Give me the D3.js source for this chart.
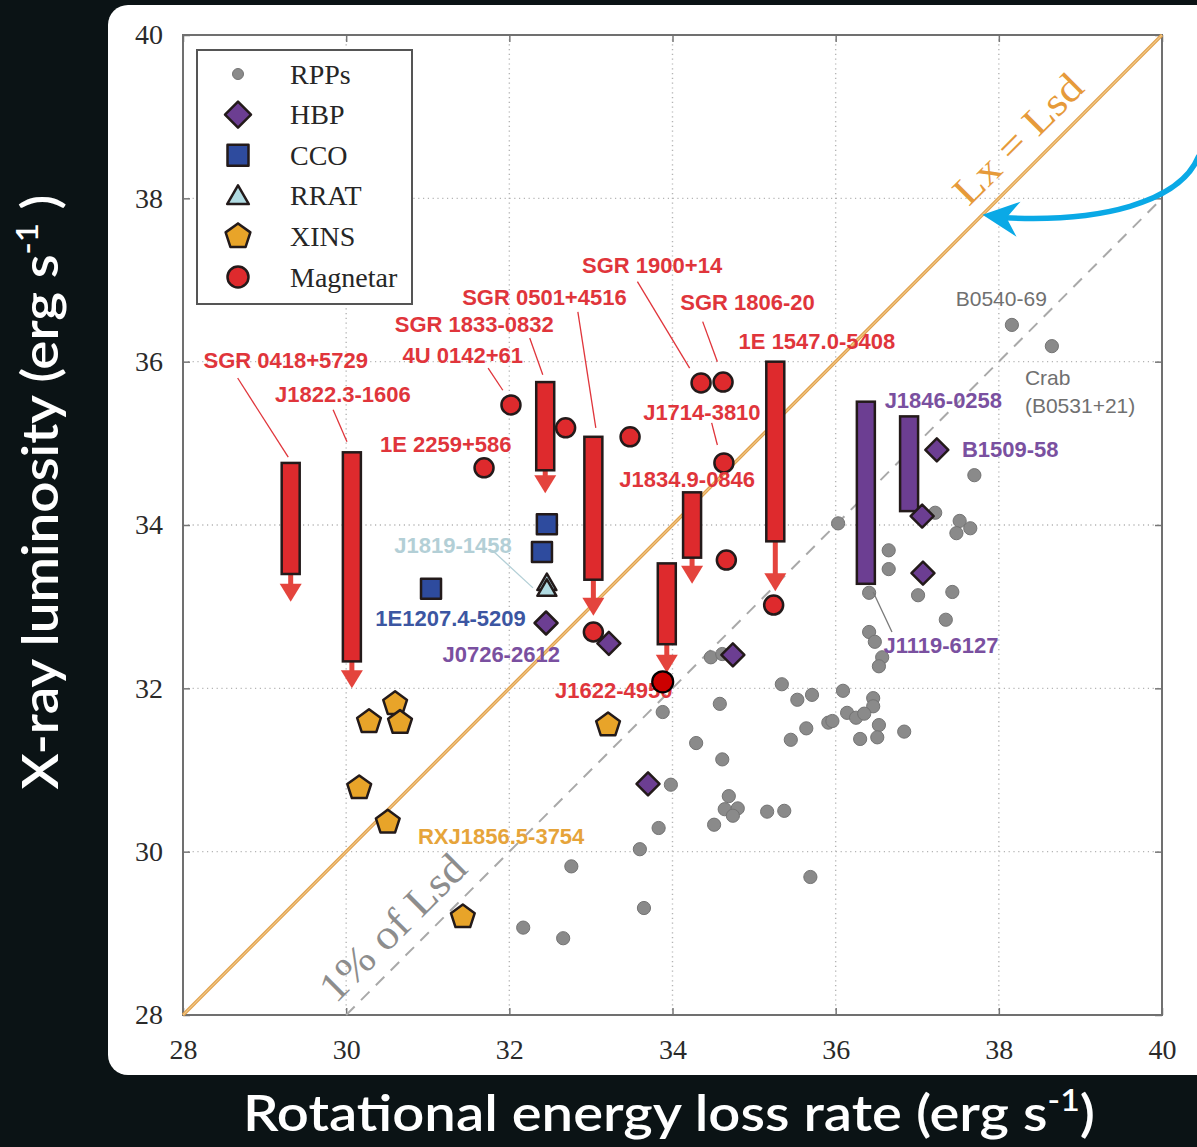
<!DOCTYPE html>
<html>
<head>
<meta charset="utf-8">
<script src="https://cdn.jsdelivr.net/npm/d3@7"></script>
<style>
  html, body { margin: 0; padding: 0; background: #0b1315; }
  svg { display: block; }
</style>
</head>
<body>
<svg id="chart" width="1197" height="1147"></svg>
<script>
// ---- axis ticks (log10 of erg/s) ----
const xTicks = [28, 30, 32, 34, 36, 38, 40];
const yTicks = [28, 30, 32, 34, 36, 38, 40];

// ---- rotation-powered pulsars: [log Edot, log Lx] ----
const rpps = [
  [38.16, 36.45], [38.65, 36.19], [37.70, 34.61], [37.22, 34.15], [37.52, 34.05],
  [37.65, 33.96], [37.48, 33.90], [36.03, 34.02], [36.65, 33.69], [36.65, 33.46],
  [36.41, 33.17], [37.01, 33.14], [37.43, 33.18], [37.35, 32.84], [36.41, 32.69],
  [36.48, 32.57], [36.57, 32.38], [36.53, 32.27], [34.47, 32.38], [34.61, 32.42],
  [35.34, 32.05], [34.58, 31.81], [35.53, 31.86], [35.71, 31.92], [36.09, 31.97],
  [36.46, 31.88], [36.46, 31.78], [33.88, 31.71], [36.14, 31.70], [36.25, 31.64],
  [36.35, 31.69], [35.91, 31.58], [35.96, 31.60], [35.64, 31.51], [36.53, 31.55],
  [35.45, 31.37], [36.30, 31.38], [36.51, 31.40], [36.84, 31.47], [34.29, 31.33],
  [34.61, 31.13], [33.98, 30.82], [34.69, 30.68], [34.64, 30.52], [34.80, 30.53],
  [34.74, 30.44], [35.16, 30.49], [35.37, 30.50], [33.83, 30.29], [34.51, 30.33],
  [33.60, 30.03], [35.69, 29.69], [32.76, 29.82], [33.65, 29.31], [32.17, 29.07],
  [32.66, 28.94]
];

// ---- high-B pulsars ----
const hbps = [
  [37.24, 34.92], [37.06, 34.11], [37.07, 33.41], [34.74, 32.41],
  [33.22, 32.55], [33.70, 30.83], [32.45, 32.80]
];
// HBP luminosity ranges: x, upper, lower
const hbpRanges = [
  { x: 36.37, top: 35.51, bottom: 33.28 },
  { x: 36.90, top: 35.33, bottom: 34.17 }
];

// ---- central compact objects ----
const ccos = [[32.46, 34.01], [32.40, 33.67], [31.04, 33.22]];

// ---- rotating radio transients ----
const rrats = [[32.46, 33.27], [32.46, 33.20]];

// ---- X-ray isolated neutron stars ----
const xins = [
  [30.60, 31.81], [30.28, 31.59], [30.66, 31.58], [30.16, 30.78],
  [30.51, 30.36], [31.43, 29.20], [33.21, 31.55]
];

// ---- magnetars (detections) ----
const magnetars = [
  [32.02, 35.47], [32.69, 35.19], [33.48, 35.08], [31.69, 34.70], [34.35, 35.74],
  [34.62, 35.75], [34.63, 34.76], [34.66, 33.57], [33.03, 32.69], [35.24, 33.02]
];
const j1622 = [33.88, 32.08];

// magnetar luminosity ranges with upper-limit arrows: x, top, bottom, arrow tip
const magnetarLimits = [
  { x: 29.32, top: 34.76, bottom: 33.40, tip: 33.06 },
  { x: 30.07, top: 34.89, bottom: 32.33, tip: 32.00 },
  { x: 32.44, top: 35.75, bottom: 34.67, tip: 34.39 },
  { x: 33.03, top: 35.08, bottom: 33.33, tip: 32.89 },
  { x: 34.24, top: 34.40, bottom: 33.60, tip: 33.28 },
  { x: 35.26, top: 36.00, bottom: 33.80, tip: 33.19 },
  { x: 33.93, top: 33.53, bottom: 32.54, tip: 32.19 }
];

// ---- source names: text, x, y, colour key, anchor ----
const sourceLabels = [
  ["SGR 0418+5729", 29.26, 36.02, "mag", "middle"],
  ["J1822.3-1606", 29.96, 35.60, "mag", "middle"],
  ["SGR 1833-0832", 31.57, 36.45, "mag", "middle"],
  ["4U 0142+61", 31.43, 36.08, "mag", "middle"],
  ["1E 2259+586", 31.22, 34.98, "mag", "middle"],
  ["SGR 0501+4516", 32.43, 36.78, "mag", "middle"],
  ["SGR 1900+14", 33.75, 37.18, "mag", "middle"],
  ["SGR 1806-20", 34.92, 36.72, "mag", "middle"],
  ["1E 1547.0-5408", 35.77, 36.25, "mag", "middle"],
  ["J1714-3810", 34.36, 35.38, "mag", "middle"],
  ["J1834.9-0846", 34.18, 34.56, "mag", "middle"],
  ["J1622-4950", 33.28, 31.97, "mag", "middle"],
  ["J1846-0258", 37.32, 35.53, "hbp", "middle"],
  ["B1509-58", 38.14, 34.92, "hbp", "middle"],
  ["J1119-6127", 37.29, 32.53, "hbp", "middle"],
  ["J0726-2612", 31.90, 32.41, "hbp", "middle"],
  ["1E1207.4-5209", 31.28, 32.86, "cco", "middle"],
  ["J1819-1458", 31.31, 33.75, "rrat", "middle"],
  ["RXJ1856.5-3754", 31.90, 30.19, "xins", "middle"]
];
const pulsarLabels = [
  ["B0540-69", 38.03, 36.77, "middle"],
  ["Crab", 38.32, 35.81, "start"],
  ["(B0531+21)", 38.32, 35.46, "start"]
];

// ---- leader lines: x1, y1, x2, y2, colour key ----
const leaders = [
  [28.67, 35.80, 29.29, 34.83, "mag"],
  [29.84, 35.41, 30.01, 35.02, "mag"],
  [32.25, 36.29, 32.41, 35.84, "mag"],
  [31.74, 35.92, 31.92, 35.65, "mag"],
  [32.84, 36.61, 33.06, 35.19, "mag"],
  [33.57, 36.98, 34.21, 35.92, "mag"],
  [34.37, 36.49, 34.55, 36.00, "mag"],
  [34.48, 35.25, 34.55, 34.98, "mag"],
  [36.46, 33.18, 36.69, 32.69, "grey"],
  [31.79, 33.69, 32.29, 33.23, "rrat"]
];

const legendItems = ["RPPs", "HBP", "CCO", "RRAT", "XINS", "Magnetar"];

// ---- styling ----
const col = {
  rpp: "#8a8a8a", rppStroke: "#747474",
  mag: "#e0353b", magFill: "#de2a2d", arrow: "#e4443d",
  hbp: "#7a50a0", hbpFill: "#6c3e92",
  cco: "#3c56a2", ccoFill: "#2e4b9e",
  rrat: "#b3cfd6", rratFill: "#b1dbe2",
  xins: "#e6a43a", xinsFill: "#e8a429",
  grey: "#7a7a7a", outline: "#231a1a"
};

const W = 1197, H = 1147;
const svg = d3.select("#chart");

svg.append("rect").attr("width", W).attr("height", H).attr("fill", "#0b1315");
svg.append("rect")
  .attr("x", 108).attr("y", 5).attr("width", 1120).attr("height", 1070)
  .attr("rx", 20).attr("fill", "#ffffff");

const x = d3.scaleLinear().domain([28, 40]).range([183, 1162]);
const y = d3.scaleLinear().domain([28, 40]).range([1015, 35]);

// dotted grid
const grid = svg.append("g")
  .attr("stroke", "#b4b4b4").attr("stroke-width", 1.4).attr("stroke-dasharray", "1.2,3.6");
grid.selectAll("line.v").data(xTicks.slice(1, -1)).join("line")
  .attr("x1", d => x(d)).attr("x2", d => x(d)).attr("y1", y(28)).attr("y2", y(40));
grid.selectAll("line.h").data(yTicks.slice(1, -1)).join("line")
  .attr("y1", d => y(d)).attr("y2", d => y(d)).attr("x1", x(28)).attr("x2", x(40));

// axes with inward ticks
const serif = "'Liberation Serif', 'Times New Roman', serif";
function styleAxis(g, hideText) {
  g.select(".domain").remove();
  g.selectAll(".tick line").attr("stroke", "#777").attr("stroke-width", 1.5);
  g.selectAll(".tick text")
    .attr("font-family", serif).attr("font-size", 28).attr("fill", "#2a2a2a");
  if (hideText) g.selectAll(".tick text").remove();
}
svg.append("g").attr("transform", `translate(0,${y(28)})`)
  .call(d3.axisBottom(x).tickValues(xTicks).tickFormat(d3.format("d")).tickSize(-7).tickPadding(24))
  .call(g => styleAxis(g, false));
svg.append("g").attr("transform", `translate(${x(28)},0)`)
  .call(d3.axisLeft(y).tickValues(yTicks).tickFormat(d3.format("d")).tickSize(-7).tickPadding(20))
  .call(g => styleAxis(g, false));
svg.append("g").attr("transform", `translate(0,${y(40)})`)
  .call(d3.axisTop(x).tickValues(xTicks).tickSize(-7))
  .call(g => styleAxis(g, true));
svg.append("g").attr("transform", `translate(${x(40)},0)`)
  .call(d3.axisRight(y).tickValues(yTicks).tickSize(-7))
  .call(g => styleAxis(g, true));

svg.append("rect")
  .attr("x", x(28)).attr("y", y(40))
  .attr("width", x(40) - x(28)).attr("height", y(28) - y(40))
  .attr("fill", "none").attr("stroke", "#707070").attr("stroke-width", 2);

// reference lines: Lx = Lsd and 1% of Lsd
const line = d3.line().x(d => x(d[0])).y(d => y(d[1]));
svg.append("path").attr("d", line([[30, 28], [40, 38]]))
  .attr("fill", "none").attr("stroke", "#a9a9a9").attr("stroke-width", 2)
  .attr("stroke-dasharray", "12,9");
svg.append("path").attr("d", line([[28, 28], [40, 40]]))
  .attr("fill", "none").attr("stroke", "#e0a04c").attr("stroke-width", 3.4);
svg.append("path").attr("d", line([[28, 28], [40, 40]]))
  .attr("fill", "none").attr("stroke", "#f2c886").attr("stroke-width", 1.1);

function lineLabel(text, cx, cy, color, len, size) {
  const ang = Math.atan2(y(cy + 1) - y(cy), x(cx + 1) - x(cx)) * 180 / Math.PI;
  svg.append("text")
    .attr("transform", `translate(${x(cx)},${y(cy)}) rotate(${ang})`)
    .attr("x", 0).attr("y", -15)
    .attr("text-anchor", "middle")
    .attr("font-family", serif).attr("font-size", size)
    .attr("fill", color)
    .attr("textLength", len).attr("lengthAdjust", "spacingAndGlyphs")
    .text(text);
}
lineLabel("Lx = Lsd", 38.48, 38.48, "#e69a3a", 166, 40);
lineLabel("1% of Lsd", 30.82, 28.82, "#8d8d8d", 189, 42);

// symbol paths
const shape = {
  diamond: r => `M0,${-r}L${r},0L0,${r}L${-r},0Z`,
  square: r => `M${-r},${-r}H${r}V${r}H${-r}Z`,
  triangle: r => `M0,${-r}L${r * 0.866},${r * 0.5}L${-r * 0.866},${r * 0.5}Z`,
  pentagon: r => "M" + d3.range(5).map(i => {
    const a = -Math.PI / 2 + i * 2 * Math.PI / 5;
    return [r * Math.cos(a), r * Math.sin(a)].join(",");
  }).join("L") + "Z"
};

const marks = svg.append("g");

// RPPs
marks.append("g").selectAll("circle").data(rpps).join("circle")
  .attr("cx", d => x(d[0])).attr("cy", d => y(d[1])).attr("r", 6.6)
  .attr("fill", col.rpp).attr("stroke", col.rppStroke).attr("stroke-width", 1);

// HBP ranges
marks.append("g").selectAll("rect").data(hbpRanges).join("rect")
  .attr("x", d => x(d.x) - 9).attr("width", 18)
  .attr("y", d => y(d.top)).attr("height", d => y(d.bottom) - y(d.top))
  .attr("fill", col.hbpFill).attr("stroke", col.outline).attr("stroke-width", 2.5);

// magnetar ranges + upper-limit arrows
const lim = marks.append("g");
lim.selectAll("line").data(magnetarLimits).join("line")
  .attr("x1", d => x(d.x)).attr("x2", d => x(d.x))
  .attr("y1", d => y(d.bottom)).attr("y2", d => y(d.tip) - 14)
  .attr("stroke", col.arrow).attr("stroke-width", 5);
lim.selectAll("path").data(magnetarLimits).join("path")
  .attr("d", d => {
    const cx = x(d.x), ty = y(d.tip);
    return `M${cx - 11},${ty - 18}L${cx + 11},${ty - 18}L${cx},${ty}Z`;
  })
  .attr("fill", col.arrow);
lim.selectAll("rect").data(magnetarLimits).join("rect")
  .attr("x", d => x(d.x) - 9).attr("width", 18)
  .attr("y", d => y(d.top)).attr("height", d => y(d.bottom) - y(d.top))
  .attr("fill", col.magFill).attr("stroke", col.outline).attr("stroke-width", 2.5);

// magnetar detections
marks.append("g").selectAll("circle").data(magnetars).join("circle")
  .attr("cx", d => x(d[0])).attr("cy", d => y(d[1])).attr("r", 9.5)
  .attr("fill", col.magFill).attr("stroke", col.outline).attr("stroke-width", 2.5);

function symbols(data, path, fill, sw) {
  marks.append("g").selectAll("path").data(data).join("path")
    .attr("transform", d => `translate(${x(d[0])},${y(d[1])})`)
    .attr("d", path)
    .attr("fill", fill).attr("stroke", col.outline).attr("stroke-width", sw)
    .attr("stroke-linejoin", "round");
}
symbols(xins, shape.pentagon(12.5), col.xinsFill, 2.5);
symbols(ccos, shape.square(10), col.ccoFill, 2.5);
symbols(rrats, shape.triangle(11), col.rratFill, 2.5);
symbols(hbps, shape.diamond(11.5), col.hbpFill, 2.5);

// leader lines
svg.append("g").selectAll("line").data(leaders).join("line")
  .attr("x1", d => x(d[0])).attr("y1", d => y(d[1]))
  .attr("x2", d => x(d[2])).attr("y2", d => y(d[3]))
  .attr("stroke", d => col[d[4]]).attr("stroke-width", 1.3);

// source names
const sans = "'Liberation Sans', Arial, Helvetica, sans-serif";
svg.append("g").selectAll("text").data(sourceLabels).join("text")
  .attr("x", d => x(d[1])).attr("y", d => y(d[2]))
  .attr("text-anchor", d => d[4]).attr("dominant-baseline", "central")
  .attr("font-family", sans).attr("font-weight", "bold").attr("font-size", 22)
  .attr("fill", d => col[d[3]])
  .text(d => d[0]);
svg.append("g").selectAll("text").data(pulsarLabels).join("text")
  .attr("x", d => x(d[1])).attr("y", d => y(d[2]))
  .attr("text-anchor", d => d[3]).attr("dominant-baseline", "central")
  .attr("font-family", sans).attr("font-size", 21)
  .attr("fill", "#707070")
  .text(d => d[0]);

// J1622-4950 detection sits on top of its label
svg.append("circle")
  .attr("cx", x(j1622[0])).attr("cy", y(j1622[1])).attr("r", 10.5)
  .attr("fill", "#cc0000").attr("stroke", "#000").attr("stroke-width", 2.2);

// legend
const lg = svg.append("g");
lg.append("rect").attr("x", 197).attr("y", 50).attr("width", 215).attr("height", 254)
  .attr("fill", "#fff").attr("stroke", "#555").attr("stroke-width", 2);
const rowY = i => 74 + i * 40.6;
const lx = 238;
lg.append("circle").attr("cx", lx).attr("cy", rowY(0)).attr("r", 5.5)
  .attr("fill", col.rpp).attr("stroke", col.rppStroke);
const legendShapes = [
  [shape.diamond(13), col.hbpFill],
  [shape.square(10.5), col.ccoFill],
  [shape.triangle(12.5), col.rratFill],
  [shape.pentagon(13), col.xinsFill]
];
legendShapes.forEach((s, i) => {
  lg.append("path").attr("transform", `translate(${lx},${rowY(i + 1) + (i === 2 ? 2 : 0)})`)
    .attr("d", s[0]).attr("fill", s[1]).attr("stroke", col.outline)
    .attr("stroke-width", 2.5).attr("stroke-linejoin", "round");
});
lg.append("circle").attr("cx", lx).attr("cy", rowY(5)).attr("r", 10.5)
  .attr("fill", col.magFill).attr("stroke", col.outline).attr("stroke-width", 2.5);
lg.selectAll("text").data(legendItems).join("text")
  .attr("x", 290).attr("y", (d, i) => rowY(i))
  .attr("dominant-baseline", "central")
  .attr("font-family", serif).attr("font-size", 28).attr("fill", "#262626")
  .text(d => d);

// pointer arrow towards the Lx = Lsd line
const tip = [x(37.8), y(37.8)];
svg.append("path")
  .attr("d", `M${tip[0] + 216},${tip[1] - 58} C${tip[0] + 197},${tip[1] - 12} ${tip[0] + 117},${tip[1] + 8} ${tip[0] + 22},${tip[1] + 3}`)
  .attr("fill", "none").attr("stroke", "#0aa9e6").attr("stroke-width", 5.5)
  .attr("stroke-linecap", "round");
svg.append("path")
  .attr("d", `M${tip[0]},${tip[1]} L${tip[0] + 38},${tip[1] - 13} L${tip[0] + 24},${tip[1] + 3} L${tip[0] + 34},${tip[1] + 22} Z`)
  .attr("fill", "#0aa9e6");

// axis titles
const titleFont = "Lato, 'Open Sans', sans-serif";
const xt = svg.append("text")
  .attr("x", 669).attr("y", 1131).attr("text-anchor", "middle")
  .attr("font-family", titleFont).attr("font-weight", 600).attr("font-size", 50)
  .attr("fill", "#ffffff")
  .attr("textLength", 852).attr("lengthAdjust", "spacingAndGlyphs");
xt.append("tspan").text("Rotational energy loss rate (erg s");
xt.append("tspan").attr("font-size", 30).attr("dy", -20).text("-1");
xt.append("tspan").attr("dy", 20).text(")");

const yt = svg.append("text")
  .attr("transform", "translate(58,492) rotate(-90)")
  .attr("text-anchor", "middle")
  .attr("font-family", titleFont).attr("font-weight", 600).attr("font-size", 50)
  .attr("fill", "#ffffff")
  .attr("textLength", 595).attr("lengthAdjust", "spacingAndGlyphs");
yt.append("tspan").text("X-ray luminosity (erg s");
yt.append("tspan").attr("font-size", 30).attr("dy", -20).text("-1");
yt.append("tspan").attr("dy", 20).text(" )");
</script>
</body>
</html>
